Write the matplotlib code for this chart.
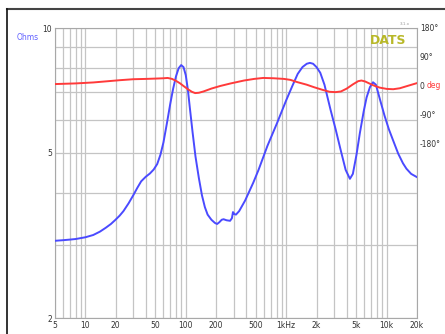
import matplotlib
matplotlib.use("Agg")
import matplotlib.pyplot as plt
from matplotlib.lines import Line2D

# impedance (ohms)
imp_freq = [5, 6, 7, 8, 10, 12, 14, 16, 18, 20, 22, 24, 27, 30, 33, 36, 40, 44,
            48, 52, 56, 60, 65, 70, 75, 80, 85, 90, 95, 100, 105, 110, 117, 125,
            135, 145, 155, 165, 180, 195, 205, 215, 228, 238, 255, 276, 288, 295,
            305, 316, 340, 390, 470, 530, 650, 810, 1000, 1150, 1300, 1450, 1600,
            1720, 1850, 2000, 2180, 2400, 2760, 3100, 3480, 3900, 4300, 4600, 5000,
            5400, 5900, 6300, 6800, 7300, 7800, 8600, 9500, 10500, 11600, 13000,
            14500, 15700, 17500, 20000]
imp_ohm = [3.07, 3.08, 3.09, 3.1, 3.13, 3.17, 3.23, 3.3, 3.37, 3.45, 3.53, 3.62,
           3.78, 3.95, 4.12, 4.27, 4.38, 4.46, 4.56, 4.7, 4.95, 5.3, 5.9, 6.55, 7.15,
           7.65, 8.0, 8.14, 8.05, 7.7, 7.1, 6.4, 5.6, 4.9, 4.35, 3.95, 3.7, 3.55,
           3.45, 3.39, 3.37, 3.4, 3.45, 3.46, 3.44, 3.43, 3.48, 3.6, 3.56, 3.55,
           3.62, 3.84, 4.24, 4.55, 5.2, 5.9, 6.7, 7.25, 7.75, 8.05, 8.2, 8.24, 8.2,
           8.05, 7.8, 7.3, 6.35, 5.7, 5.08, 4.55, 4.33, 4.45, 4.95, 5.58, 6.3, 6.8,
           7.2, 7.4, 7.3, 6.7, 6.15, 5.7, 5.35, 4.98, 4.72, 4.58, 4.45, 4.37]

# phase (degrees)
ph_freq = [5, 8, 12, 17, 22, 30, 40, 50, 60, 66, 73, 80, 88, 95, 105, 115, 124,
           135, 150, 180, 220, 280, 380, 480, 590, 750, 950, 1100, 1290, 1600,
           1900, 2300, 2700, 3100, 3500, 4000, 4600, 5200, 5600, 6100, 6800, 7500,
           8500, 10000, 11600, 13500, 16000, 20000]
ph_deg = [6, 8, 11, 15, 18, 21, 22, 23, 24, 25, 22, 16, 8, 0, -10, -18, -22, -21,
          -17, -8, 0, 8, 17, 22, 25, 24, 22, 19, 12, 4, -4, -12, -18, -19, -17,
          -8, 5, 15, 17, 14, 7, 1, -5, -9, -10, -7, 0, 9]

x_major = [5, 10, 20, 50, 100, 200, 500, 1000, 2000, 5000, 10000, 20000]
x_labels = ["5", "10", "20", "50", "100", "200", "500", "1kHz", "2k", "5k", "10k", "20k"]
x_minor = [6, 7, 8, 9, 30, 40, 60, 70, 80, 90, 300, 400, 600, 700, 800, 900,
           3000, 4000, 6000, 7000, 8000, 9000]
y_major = [2, 5, 10]
y_minor = [3, 4, 6, 7, 8, 9]
ph_ticks = [180, 90, 0, -90, -180]
ph_labels = ["180°", "90°", "0", "-90°", "-180°"]

fig = plt.figure(figsize=(4.45, 3.34), dpi=100)
ax = fig.add_axes([55 / 445, 1 - 318 / 334, 362 / 445, 290 / 334])

ax.set_xscale("log")
ax.set_yscale("log")
ax.set_xlim(5, 20000)
ax.set_ylim(2, 10)
ax.set_xticks(x_major)
ax.set_xticklabels(x_labels)
ax.set_xticks(x_minor, minor=True)
ax.set_xticklabels([], minor=True)
ax.set_yticks(y_major)
ax.set_yticklabels([str(v) for v in y_major])
ax.set_yticks(y_minor, minor=True)
ax.set_yticklabels([], minor=True)
ax.tick_params(which="both", length=0, labelsize=5.5, colors="#333333", pad=2)
ax.grid(True, which="both", color="#c4c4c4", lw=0.9)
for s in ax.spines.values():
    s.set_color("#a8a8a8")
ax.plot(imp_freq, imp_ohm, color="#4a4aff", lw=1.4, zorder=3)

ax2 = ax.twinx()
ax2.set_ylim(-720, 180)
ax2.set_yticks(ph_ticks)
ax2.set_yticklabels(ph_labels)
ax2.tick_params(length=0, labelsize=5.5, colors="#333333", pad=2)
for s in ax2.spines.values():
    s.set_visible(False)
ax2.plot(ph_freq, ph_deg, color="#ff3a3a", lw=1.4, zorder=3)
ax2.text(1.027, 0, "deg", transform=ax2.get_yaxis_transform(), color="#ff3a3a",
         fontsize=5.5, va="center", ha="left")

fig.text(17 / 445, 1 - 37 / 334, "Ohms", color="#6060ff", fontsize=5.5, va="center")
ax.text(0.97, 0.98, "DATS", transform=ax.transAxes, color="#b8b828", fontsize=9,
        fontweight="bold", ha="right", va="top")
fig.text(405 / 445, 1 - 25 / 334, "3.1.x", color="#999999", fontsize=3, ha="center")

# outer frame of the screenshot
fig.add_artist(Line2D([7 / 445, 1], [1 - 9 / 334, 1 - 9 / 334], color="#444444", lw=1.5))
fig.add_artist(Line2D([7 / 445, 7 / 445], [0, 1 - 9 / 334], color="#111111", lw=1.2))

fig.savefig("out.png", dpi=100, facecolor="white")
